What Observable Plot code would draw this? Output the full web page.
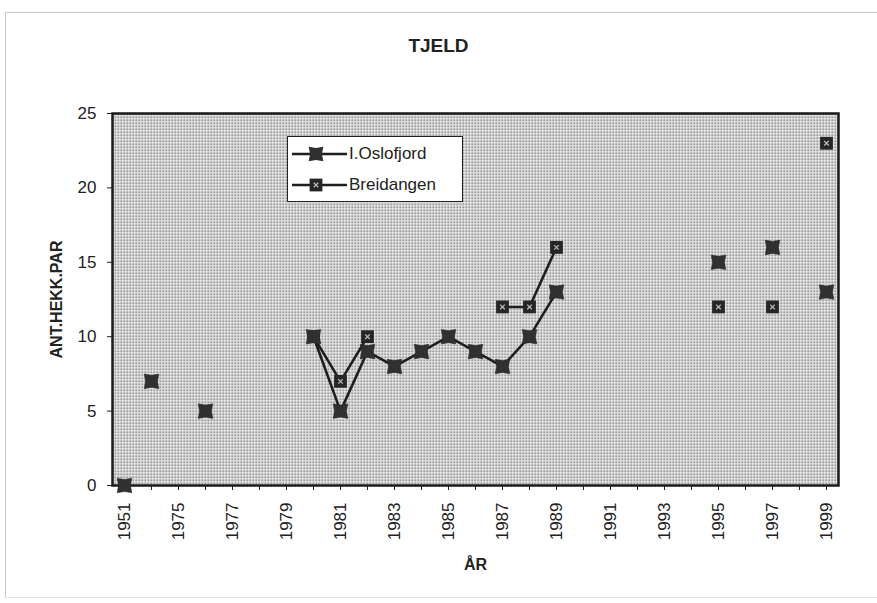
<!DOCTYPE html>
<html>
<head>
<meta charset="utf-8">
<script src="https://cdn.jsdelivr.net/npm/d3@7"></script>
<script src="https://cdn.jsdelivr.net/npm/@observablehq/plot@0.6"></script>
<style>
  body { margin: 0; background: #fff; font-family: "Liberation Sans", Arial, sans-serif; }
  #wrap { position: relative; width: 877px; height: 603px; overflow: hidden; }
  #border { position: absolute; left: 5px; top: 12px; width: 900px; height: 586px; border: 1px solid #c8c8c8; border-bottom-color: #e4e4e4; box-sizing: border-box; }
  #title { position: absolute; left: 0; top: 0; width: 877px; height: 80px; text-align: center; font-weight: bold; font-size: 19px; line-height: 19px; padding-top: 36px; box-sizing: border-box; color: #222; }
  #chart { position: absolute; left: 0; top: 80px; }
  #legend { position: absolute; left: 287px; top: 136px; width: 176px; height: 66px; background: #fff; border: 1px solid #222; box-sizing: border-box; }
</style>
</head>
<body>
<div id="wrap">
  <div id="border"></div>
  <div id="title">TJELD</div>
  <div id="chart"></div>
  <div id="legend"></div>
</div>
<script>
const years = ["1951","1974","1975","1976","1977","1978","1979","1980","1981","1982","1983","1984","1985","1986","1987","1988","1989","1990","1991","1992","1993","1994","1995","1996","1997","1998","1999"];
const oslofjord = [0, 7, null, 5, null, null, null, 10, 5, 9, 8, 9, 10, 9, 8, 10, 13, null, null, null, null, null, 15, null, 16, null, 13];
const breidangen = [null, null, null, null, null, null, null, 10, 7, 10, null, null, null, null, 12, 12, 16, null, null, null, null, null, 12, null, 12, null, 23];
const seriesNames = ["I.Oslofjord", "Breidangen"];
const yTicks = [0, 5, 10, 15, 20, 25];
const lineStartYear = "1980";

const rows = [];
years.forEach((yr, i) => {
  rows.push({year: yr, value: oslofjord[i], series: seriesNames[0], idx: i});
  rows.push({year: yr, value: breidangen[i], series: seriesNames[1], idx: i});
});
const startIdx = years.indexOf(lineStartYear);
const lineRows = rows.filter(d => d.idx >= startIdx);
const pts = rows.filter(d => d.value != null);
const osloPts = pts.filter(d => d.series === seriesNames[0]);
const breidPts = pts.filter(d => d.series === seriesNames[1]);

const starSquare = {
  draw(ctx, size) {
    const r = Math.sqrt(size / Math.PI);
    const h = r, m = r * 0.82;
    ctx.moveTo(-h, -h);
    ctx.lineTo(0, -m);
    ctx.lineTo(h, -h);
    ctx.lineTo(m, 0);
    ctx.lineTo(h, h);
    ctx.lineTo(0, m);
    ctx.lineTo(-h, h);
    ctx.lineTo(-m, 0);
    ctx.closePath();
  }
};
const boxSym = {
  draw(ctx, size) {
    const h = Math.sqrt(size / Math.PI);
    ctx.moveTo(-h, -h); ctx.lineTo(h, -h); ctx.lineTo(h, h); ctx.lineTo(-h, h); ctx.closePath();
  }
};

const plot = Plot.plot({
  width: 877,
  height: 523,
  marginLeft: 112,
  marginRight: 39,
  marginTop: 33,
  marginBottom: 118,
  style: { fontFamily: "'Liberation Sans', Arial, sans-serif", fontSize: "16px", color: "#222", background: "transparent", overflow: "visible" },
  x: { type: "point", domain: years, padding: 0 },
  y: { domain: [0, 25] },
  marks: [
    Plot.frame({ fill: "url(#stipple)", stroke: "none" }),
    Plot.axisY({ ticks: yTicks, tickSize: 5, tickPadding: 11, label: "ANT.HEKK.PAR", labelAnchor: "center", labelArrow: "none", labelOffset: 62, fontSize: 17,
      tickFormat: d => d }),
    Plot.axisX({ tickSize: 5, tickPadding: 12, tickRotate: -90, label: "ÅR", labelAnchor: "center", labelArrow: "none", labelOffset: 84, fontSize: 17,
      tickFormat: (d, i) => (years.indexOf(d) % 2 === 0 ? d : "") }),
    Plot.line(lineRows, { x: "year", y: "value", z: "series", stroke: "#1e1e1e", strokeWidth: 2.6 }),
    Plot.frame({ stroke: "#1a1a1a", strokeWidth: 2.5 }),
    Plot.dot(breidPts, { x: "year", y: "value", symbol: boxSym, r: 6.4, fill: "#262626", stroke: "none" }),
    Plot.dot(breidPts, { x: "year", y: "value", symbol: "times", r: 2.2, stroke: "#bdbdbd", strokeWidth: 1.2, fill: "none" }),
    Plot.dot(osloPts, { x: "year", y: "value", symbol: starSquare, r: 7.3, fill: "#303030", stroke: "#222", strokeWidth: 0.5 })
  ]
});

// stipple pattern defs
const svgNS = "http://www.w3.org/2000/svg";
const defs = document.createElementNS(svgNS, "defs");
defs.innerHTML = `<pattern id="stipple" width="3" height="3" patternUnits="userSpaceOnUse">
  <rect width="3" height="3" fill="#ededed"/>
  <rect x="0" y="0" width="1.5" height="1.5" fill="#5c5c5c"/>
</pattern>`;
plot.insertBefore(defs, plot.firstChild);
d3.select(plot).selectAll("[aria-label='y-axis label'] text, [aria-label='x-axis label'] text").style("font-weight", "bold").style("font-size", "16px");
document.getElementById("chart").appendChild(plot);

// legend
const lg = d3.select("#legend");
seriesNames.forEach((name, i) => {
  const row = lg.append("div").style("position", "absolute").style("left", "4px").style("top", (i === 0 ? 6 : 37) + "px").style("height", "22px").style("display", "flex").style("align-items", "center");
  const s = row.append("svg").attr("width", 55).attr("height", 22);
  s.append("line").attr("x1", 0).attr("x2", 55).attr("y1", 11).attr("y2", 11).attr("stroke", "#1e1e1e").attr("stroke-width", 2.6);
  if (i === 0) {
    s.append("path").attr("transform", "translate(24,11)").attr("d", d3.symbol(starSquare, Math.PI * 7.3 * 7.3)()).attr("fill", "#303030");
  } else {
    s.append("path").attr("transform", "translate(24,11)").attr("d", d3.symbol(boxSym, Math.PI * 6.4 * 6.4)()).attr("fill", "#262626");
    s.append("path").attr("transform", "translate(24,11)").attr("d", d3.symbol(d3.symbolTimes, 15)()).attr("stroke", "#bdbdbd").attr("fill", "none").attr("stroke-width", 1.2);
  }
  row.append("span").text(name).style("font-size", "17px").style("color", "#222").style("margin-left", "2px");
});
</script>
</body>
</html>
